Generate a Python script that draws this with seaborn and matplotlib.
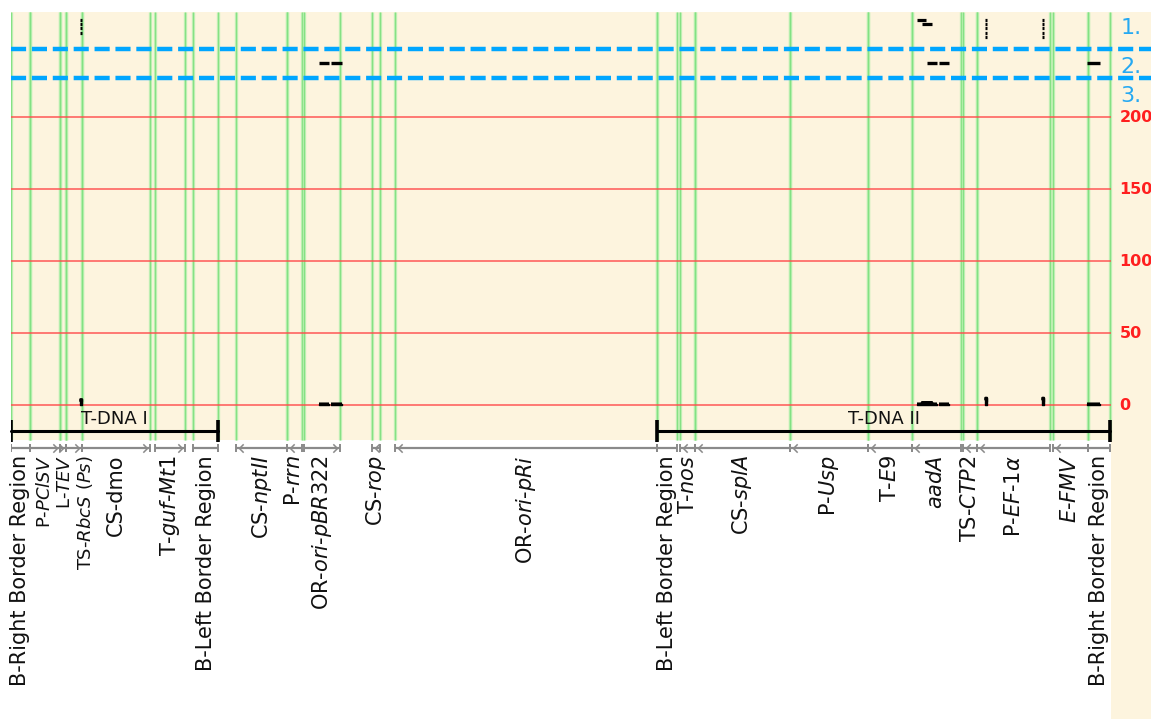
import numpy as np
import matplotlib
matplotlib.use("Agg")
import matplotlib.pyplot as plt
from matplotlib.patches import Rectangle
from matplotlib.path import Path
import seaborn as sns

# ---------------------------------------------------------------- data
# Annotated genetic elements along the insert (positions in bp)
feature_labels = [
    "B-Right Border Region", "P-$\\it{PClSV}$", "L-$\\it{TEV}$",
    "TS-$\\it{RbcS\\ (Ps)}$", "CS-dmo", "T-$\\it{guf}$-$\\it{Mt1}$",
    "B-Left Border Region", "CS-$\\it{nptII}$", "P-$\\it{rrn}$",
    "OR-$\\it{ori}$-$\\it{pBR322}$", "CS-$\\it{rop}$", "OR-$\\it{ori}$-$\\it{pRi}$",
    "B-Left Border Region", "T-$\\it{nos}$", "CS-$\\it{splA}$", "P-$\\it{Usp}$",
    "T-$\\it{E9}$", "$\\it{aadA}$", "TS-$\\it{CTP2}$", "P-$\\it{EF}$-$\\it{1\\alpha}$",
    "$\\it{E}$-$\\it{FMV}$", "B-Right Border Region",
]
feature_starts = [0, 285, 735, 825, 1065, 2160, 2730, 3375, 4140, 4395, 5415,
                  5760, 9690, 10035, 10260, 11685, 12855, 13515, 14280, 14490,
                  15630, 16155]
feature_ends = [285, 735, 825, 1065, 2085, 2610, 3105, 4140, 4365, 4935, 5535,
                9690, 9990, 10260, 11685, 12855, 13515, 14250, 14490, 15585,
                16155, 16485]
feature_strands = [0, 1, 1, 1, 1, 1, 0, -1, -1, 1, -1, -1,
                   0, -1, -1, -1, -1, -1, -1, -1, -1, 0]

# T-DNA regions
tdna_names = ["T-DNA I", "T-DNA II"]
tdna_starts = [0, 9690]
tdna_ends = [3105, 16485]

# Aligned reads, track 1
track1_starts = [1035, 1040, 1035, 1040,
                 13590, 13665,
                 14610, 14615, 14610, 14615, 14610,
                 15465, 15470, 15465, 15470, 15465]
track1_ends = [1065, 1070, 1065, 1070,
               13725, 13815,
               14640, 14645, 14640, 14645, 14640,
               15495, 15500, 15495, 15500, 15495]
track1_rows = [0, 1, 2, 3,
               0, 1,
               0, 1, 2, 3, 4,
               0, 1, 2, 3, 4]

# Aligned reads, track 2
track2_starts = [4620, 4800, 13740, 13920, 16140]
track2_ends = [4770, 4965, 13890, 14070, 16335]
track2_rows = [0, 0, 0, 0, 0]

coverage_ticks = [0, 50, 100, 150, 200]
track_names = ["1.", "2.", "3."]

# ---------------------------------------------------------------- style
sns.set_style("white")
plt.rcParams["font.family"] = ["DejaVu Sans"]
plt.rcParams["mathtext.fontset"] = "dejavusans"

BG = "#fdf4de"
GREEN = "#7fe07f"
GREEN_HALO = "#b9f0b0"
RED = "#ff4a4a"
BLUE = "#00a6ff"
GREY = "#8a8a8a"

W, H = 1151, 719
fig = plt.figure(figsize=(W / 100, H / 100), dpi=100)
fig.patch.set_facecolor("white")
ax = fig.add_axes([11 / W, 0, 1140 / W, 707 / H])

X_MAX = 17100
GENOME_END = 16500
Y_TOP, Y_BOTTOM = 272.92, -218.05
ax.set_xlim(0, X_MAX)
ax.set_ylim(Y_BOTTOM, Y_TOP)
ax.axis("off")

# layout (data units of the coverage scale)
PANEL_BOTTOM = -24.3
SEP_Y = [247.22, 227.08]
TRACK_LABEL_Y = [261.8, 234.7, 214.6]
TRACK1_ROW0, TRACK2_ROW0, ROW_STEP = 267.4, 237.5, 2.95
BRACKET_Y = -18.1
FEATURE_Y = -29.9
LABEL_TOP = -34.7
LABEL_SIZE = 15
# the short leader elements sit close together: smaller type, slight nudges
CROWDED = {1: (0, 13), 2: (30, 13), 3: (165, 13)}

# panel backgrounds
ax.add_patch(Rectangle((0, PANEL_BOTTOM), X_MAX, Y_TOP - PANEL_BOTTOM,
                       facecolor=BG, edgecolor="none", zorder=0))
ax.add_patch(Rectangle((GENOME_END, Y_BOTTOM), X_MAX - GENOME_END,
                       PANEL_BOTTOM - Y_BOTTOM + 1, facecolor=BG,
                       edgecolor="none", zorder=0))

# element boundaries: pale halo with a brighter core
for s, e in zip(feature_starts, feature_ends):
    ax.vlines([s, e], PANEL_BOTTOM, Y_TOP, color=GREEN_HALO, lw=2.4,
              alpha=0.8, zorder=1)
    ax.vlines([s, e], PANEL_BOTTOM, Y_TOP, color=GREEN, lw=0.9, alpha=0.9,
              zorder=1)

# coverage scale
ax.hlines(coverage_ticks, 0, GENOME_END, color=RED, lw=1.2, alpha=0.85,
          zorder=2)
for t in coverage_ticks:
    ax.text(16625, t, str(t), color="#ff1f1f", fontsize=11.5,
            fontweight="bold", ha="left", va="center", zorder=6)

# track separators and names
for y in SEP_Y:
    ax.plot([0, X_MAX], [y, y], color=BLUE, lw=3.2, ls=(0, (3.4, 1.3)),
            solid_capstyle="butt", dash_capstyle="butt", zorder=3)
for name, y in zip(track_names, TRACK_LABEL_Y):
    ax.text(16640, y, name, color="#26a9f2", fontsize=16, ha="left",
            va="center", zorder=6)

# reads
t1_y = [TRACK1_ROW0 - r * ROW_STEP for r in track1_rows]
t2_y = [TRACK2_ROW0 - r * ROW_STEP for r in track2_rows]
ax.hlines(t1_y, track1_starts, track1_ends, color="black", lw=2.3, zorder=5)
ax.hlines(t2_y, track2_starts, track2_ends, color="black", lw=2.4, zorder=5)

# coverage from all reads
grid = np.arange(0, GENOME_END, 5)
cov = np.zeros_like(grid, dtype=float)
for s, e in zip(track1_starts + track2_starts, track1_ends + track2_ends):
    cov[(grid >= s) & (grid < e)] += 1
cov_line = np.where(cov > 0, cov, np.nan)
ax.fill_between(grid, 0, cov, where=cov > 0, step="post", color="black",
                zorder=5)
ax.plot(grid, cov_line, color="black", lw=1.6, drawstyle="steps-post",
        solid_capstyle="butt", zorder=5)

# T-DNA brackets
for name, s, e in zip(tdna_names, tdna_starts, tdna_ends):
    ax.plot([s, e], [BRACKET_Y, BRACKET_Y], color="black", lw=2.2, zorder=6,
            clip_on=False)
    ax.vlines([s, e], BRACKET_Y - 7.5, BRACKET_Y + 7.5, color="black", lw=2.6,
              zorder=6)
    ax.text((s + e) / 2, BRACKET_Y + 8.5, name, fontsize=13, ha="center",
            va="center", color="#111111", zorder=6)

# element map
chev_r = Path([(-1, 1), (0, 0), (-1, -1)],
              [Path.MOVETO, Path.LINETO, Path.LINETO])
chev_l = Path([(1, 1), (0, 0), (1, -1)],
              [Path.MOVETO, Path.LINETO, Path.LINETO])
fwd_x, rev_x = [], []
for s, e, st in zip(feature_starts, feature_ends, feature_strands):
    ax.hlines(FEATURE_Y, s, e, color=GREY, lw=1.6, zorder=4)
    ax.vlines([s, e], FEATURE_Y - 2.6, FEATURE_Y + 2.6, color=GREY, lw=1.4,
              zorder=4)
    if st > 0:
        fwd_x.append(e - 45)
    elif st < 0:
        rev_x.append(s + 45)
ax.plot(fwd_x, [FEATURE_Y] * len(fwd_x), ls="none", marker=chev_r, ms=6,
        mfc="none", mec=GREY, mew=1.1, zorder=4)
ax.plot(rev_x, [FEATURE_Y] * len(rev_x), ls="none", marker=chev_l, ms=6,
        mfc="none", mec=GREY, mew=1.1, zorder=4)

for i, (lab, s, e) in enumerate(zip(feature_labels, feature_starts,
                                    feature_ends)):
    nudge, size = CROWDED.get(i, (0, LABEL_SIZE))
    ax.text((s + e) / 2 + nudge, LABEL_TOP, lab, rotation=90, ha="center",
            va="top", fontsize=size, color="#111111", zorder=6)

fig.savefig("out.png", dpi=100, facecolor="white")
